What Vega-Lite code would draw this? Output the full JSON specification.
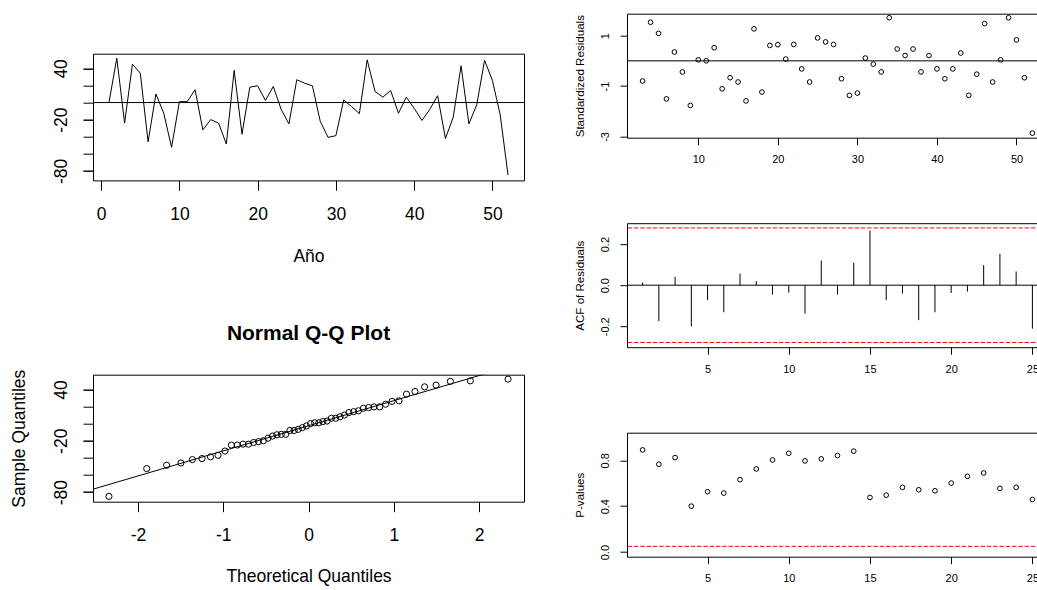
{
  "$schema": "https://vega.github.io/schema/vega-lite/v6.json",
  "usermeta": {"embedOptions": {"actions": false}},
  "background": "white",
  "padding": {"left": 2, "top": 12.7, "right": 0, "bottom": 0},
  "config": {
    "font": "Liberation Sans",
    "view": {"stroke": "black", "strokeWidth": 1},
    "axis": {
      "domain": false, "grid": false, "tickColor": "black", "tickWidth": 1,
      "labelColor": "black", "titleColor": "black",
      "labelFont": "Liberation Sans", "titleFont": "Liberation Sans",
      "labelOverlap": false, "labelFlush": false, "labelBound": false,
      "titleFontWeight": "normal"
    }
  },
  "datasets": {
    "series": [
      {"t": 1, "v": 0}, {"t": 2, "v": 52}, {"t": 3, "v": -24}, {"t": 4, "v": 45}, {"t": 5, "v": 34.5},
      {"t": 6, "v": -46}, {"t": 7, "v": 10}, {"t": 8, "v": -12.5}, {"t": 9, "v": -52.5}, {"t": 10, "v": 1},
      {"t": 11, "v": 1}, {"t": 12, "v": 15}, {"t": 13, "v": -32}, {"t": 14, "v": -20}, {"t": 15, "v": -24},
      {"t": 16, "v": -48.6}, {"t": 17, "v": 37.6}, {"t": 18, "v": -37}, {"t": 19, "v": 18}, {"t": 20, "v": 19.6},
      {"t": 21, "v": 2.4}, {"t": 22, "v": 18.8}, {"t": 23, "v": -8}, {"t": 24, "v": -25}, {"t": 25, "v": 26.7},
      {"t": 26, "v": 22.7}, {"t": 27, "v": 19.6}, {"t": 28, "v": -22}, {"t": 29, "v": -40.8}, {"t": 30, "v": -38.8},
      {"t": 31, "v": 3}, {"t": 32, "v": -4.7}, {"t": 33, "v": -13}, {"t": 34, "v": 50}, {"t": 35, "v": 13},
      {"t": 36, "v": 6.3}, {"t": 37, "v": 14}, {"t": 38, "v": -12.5}, {"t": 39, "v": 6.3}, {"t": 40, "v": -6.7},
      {"t": 41, "v": -21}, {"t": 42, "v": -8}, {"t": 43, "v": 8}, {"t": 44, "v": -42}, {"t": 45, "v": -17},
      {"t": 46, "v": 43}, {"t": 47, "v": -25}, {"t": 48, "v": -2.7}, {"t": 49, "v": 49.4}, {"t": 50, "v": 26},
      {"t": 51, "v": -14.5}, {"t": 52, "v": -85}
    ],
    "qq": [
      {"tq": -2.341, "sq": -85}, {"tq": -1.898, "sq": -52.5}, {"tq": -1.664, "sq": -48.6}, {"tq": -1.497, "sq": -46},
      {"tq": -1.362, "sq": -42}, {"tq": -1.249, "sq": -40.8}, {"tq": -1.150, "sq": -38.8}, {"tq": -1.062, "sq": -37},
      {"tq": -0.980, "sq": -32}, {"tq": -0.905, "sq": -25}, {"tq": -0.835, "sq": -25}, {"tq": -0.768, "sq": -24},
      {"tq": -0.705, "sq": -24}, {"tq": -0.644, "sq": -22}, {"tq": -0.586, "sq": -21}, {"tq": -0.530, "sq": -20},
      {"tq": -0.475, "sq": -17}, {"tq": -0.422, "sq": -14.5}, {"tq": -0.370, "sq": -13}, {"tq": -0.319, "sq": -12.5},
      {"tq": -0.268, "sq": -12.5}, {"tq": -0.218, "sq": -8}, {"tq": -0.169, "sq": -8}, {"tq": -0.121, "sq": -6.7},
      {"tq": -0.072, "sq": -4.7}, {"tq": -0.024, "sq": -2.7}, {"tq": 0.024, "sq": 0}, {"tq": 0.072, "sq": 1},
      {"tq": 0.121, "sq": 1}, {"tq": 0.169, "sq": 2.4}, {"tq": 0.218, "sq": 3}, {"tq": 0.268, "sq": 6.3},
      {"tq": 0.319, "sq": 6.3}, {"tq": 0.370, "sq": 8}, {"tq": 0.422, "sq": 10}, {"tq": 0.475, "sq": 13},
      {"tq": 0.530, "sq": 14}, {"tq": 0.586, "sq": 15}, {"tq": 0.644, "sq": 18}, {"tq": 0.705, "sq": 18.8},
      {"tq": 0.768, "sq": 19.6}, {"tq": 0.835, "sq": 19.6}, {"tq": 0.905, "sq": 22.7}, {"tq": 0.980, "sq": 26},
      {"tq": 1.062, "sq": 26.7}, {"tq": 1.150, "sq": 34.5}, {"tq": 1.249, "sq": 37.6}, {"tq": 1.362, "sq": 43},
      {"tq": 1.497, "sq": 45}, {"tq": 1.664, "sq": 49.4}, {"tq": 1.898, "sq": 50}, {"tq": 2.341, "sq": 52}
    ],
    "qqline": [{"tq": -2.6, "sq": -78.7}, {"tq": 2.6, "sq": 73.7}],
    "resid": [
      {"t": 3, "r": -0.8}, {"t": 4, "r": 1.53}, {"t": 5, "r": 1.09}, {"t": 6, "r": -1.51}, {"t": 7, "r": 0.35},
      {"t": 8, "r": -0.44}, {"t": 9, "r": -1.77}, {"t": 10, "r": 0.04}, {"t": 11, "r": 0.0}, {"t": 12, "r": 0.52},
      {"t": 13, "r": -1.11}, {"t": 14, "r": -0.67}, {"t": 15, "r": -0.84}, {"t": 16, "r": -1.59}, {"t": 17, "r": 1.27},
      {"t": 18, "r": -1.24}, {"t": 19, "r": 0.61}, {"t": 20, "r": 0.64}, {"t": 21, "r": 0.07}, {"t": 22, "r": 0.65},
      {"t": 23, "r": -0.32}, {"t": 24, "r": -0.84}, {"t": 25, "r": 0.91}, {"t": 26, "r": 0.75}, {"t": 27, "r": 0.65},
      {"t": 28, "r": -0.71}, {"t": 29, "r": -1.37}, {"t": 30, "r": -1.28}, {"t": 31, "r": 0.11}, {"t": 32, "r": -0.13},
      {"t": 33, "r": -0.44}, {"t": 34, "r": 1.71}, {"t": 35, "r": 0.47}, {"t": 36, "r": 0.21}, {"t": 37, "r": 0.47},
      {"t": 38, "r": -0.44}, {"t": 39, "r": 0.21}, {"t": 40, "r": -0.32}, {"t": 41, "r": -0.71}, {"t": 42, "r": -0.32},
      {"t": 43, "r": 0.31}, {"t": 44, "r": -1.37}, {"t": 45, "r": -0.53}, {"t": 46, "r": 1.48}, {"t": 47, "r": -0.84},
      {"t": 48, "r": 0.04}, {"t": 49, "r": 1.71}, {"t": 50, "r": 0.83}, {"t": 51, "r": -0.67}, {"t": 52, "r": -2.87}
    ],
    "acf": [
      {"lag": 1, "acf": 0.013}, {"lag": 2, "acf": -0.175}, {"lag": 3, "acf": 0.041}, {"lag": 4, "acf": -0.201},
      {"lag": 5, "acf": -0.073}, {"lag": 6, "acf": -0.132}, {"lag": 7, "acf": 0.056}, {"lag": 8, "acf": 0.020},
      {"lag": 9, "acf": -0.046}, {"lag": 10, "acf": -0.036}, {"lag": 11, "acf": -0.139}, {"lag": 12, "acf": 0.121},
      {"lag": 13, "acf": -0.046}, {"lag": 14, "acf": 0.109}, {"lag": 15, "acf": 0.266}, {"lag": 16, "acf": -0.073},
      {"lag": 17, "acf": -0.041}, {"lag": 18, "acf": -0.170}, {"lag": 19, "acf": -0.132}, {"lag": 20, "acf": -0.038},
      {"lag": 21, "acf": -0.031}, {"lag": 22, "acf": 0.098}, {"lag": 23, "acf": 0.153}, {"lag": 24, "acf": 0.067},
      {"lag": 25, "acf": -0.212}
    ],
    "acfband": [{"b": 0.279}, {"b": -0.279}],
    "pval": [
      {"lag": 1, "p": 0.890}, {"lag": 2, "p": 0.765}, {"lag": 3, "p": 0.823}, {"lag": 4, "p": 0.400},
      {"lag": 5, "p": 0.526}, {"lag": 6, "p": 0.514}, {"lag": 7, "p": 0.631}, {"lag": 8, "p": 0.724},
      {"lag": 9, "p": 0.803}, {"lag": 10, "p": 0.861}, {"lag": 11, "p": 0.794}, {"lag": 12, "p": 0.812},
      {"lag": 13, "p": 0.841}, {"lag": 14, "p": 0.879}, {"lag": 15, "p": 0.476}, {"lag": 16, "p": 0.496},
      {"lag": 17, "p": 0.564}, {"lag": 18, "p": 0.543}, {"lag": 19, "p": 0.534}, {"lag": 20, "p": 0.601},
      {"lag": 21, "p": 0.660}, {"lag": 22, "p": 0.689}, {"lag": 23, "p": 0.555}, {"lag": 24, "p": 0.564},
      {"lag": 25, "p": 0.458}
    ],
    "sig": [{"b": 0.05}]
  },
  "spacing": 41,
  "hconcat": [
    {
      "spacing": 0,
      "bounds": "full",
      "vconcat": [
        {
          "width": 431, "height": 38.3,
          "view": {"stroke": null},
          "data": {"values": [{}]},
          "mark": {"type": "text", "text": ""},
          "encoding": {}
        },
        {
          "width": 431, "height": 126.7,
          "resolve": {"axis": {"y": "independent"}},
          "layer": [
            {
              "data": {"name": "series"},
              "mark": {"type": "line", "color": "black", "strokeWidth": 1},
              "encoding": {
                "x": {"field": "t", "type": "quantitative",
                  "scale": {"domain": [-1.04, 54.04], "nice": false, "zero": false},
                  "axis": {"values": [0, 10, 20, 30, 40, 50], "title": "Año", "tickSize": 10,
                    "labelFontSize": 17.5, "labelPadding": 15, "titleFontSize": 17.5, "labelOverlap": false,
                    "titleY": 76, "titleBaseline": "middle"}},
                "y": {"field": "v", "type": "quantitative",
                  "scale": {"domain": [-91.2, 57.2], "nice": false, "zero": false},
                  "axis": {"orient": "left", "values": [-80, -20, 40], "title": null, "tickSize": 10,
                    "labelAngle": 270, "labelAlign": "center", "labelBaseline": "middle", "labelOverlap": false,
                    "labelPadding": 21.7, "labelFontSize": 17.5, "minExtent": 90,
                    "labelExpr": "toString(datum.value)"}}
              }
            },
            {
              "data": {"values": [{}]},
              "mark": {"type": "rule", "color": "black", "strokeWidth": 1},
              "encoding": {"y": {"datum": 0, "type": "quantitative",
                "axis": {"orient": "left", "values": [-80, -60, -40, -20, 0, 20, 40], "labels": false,
                  "title": null, "tickSize": 10, "minExtent": 90}}}
            }
          ]
        },
        {
          "width": 431, "height": 56.3,
          "view": {"stroke": null},
          "data": {"values": [{}]},
          "mark": {"type": "text", "text": ""},
          "encoding": {}
        },
        {
          "width": 431, "height": 127,
          "title": {"text": "Normal Q-Q Plot", "fontSize": 21, "fontWeight": "bold", "anchor": "middle",
            "frame": "group", "baseline": "alphabetic", "offset": 7.7, "color": "black", "font": "Liberation Sans"},
          "resolve": {"axis": {"y": "independent"}},
          "layer": [
            {
              "data": {"name": "qq"},
              "mark": {"type": "point", "shape": "circle", "filled": false, "color": "black", "size": 38, "strokeWidth": 1, "opacity": 1},
              "encoding": {
                "x": {"field": "tq", "type": "quantitative",
                  "scale": {"domain": [-2.528, 2.528], "nice": false, "zero": false},
                  "axis": {"values": [-2, -1, 0, 1, 2], "title": "Theoretical Quantiles", "tickSize": 10,
                    "labelFontSize": 17.5, "labelPadding": 15, "titleFontSize": 17.5, "labelOverlap": false,
                    "titleY": 75, "titleBaseline": "middle", "labelExpr": "toString(datum.value)"}},
                "y": {"field": "sq", "type": "quantitative",
                  "scale": {"domain": [-91.2, 57.2], "nice": false, "zero": false},
                  "axis": {"orient": "left", "values": [-80, -20, 40], "title": "Sample Quantiles", "tickSize": 10,
                    "labelAngle": 270, "labelAlign": "center", "labelBaseline": "middle", "labelOverlap": false,
                    "labelPadding": 21.7, "labelFontSize": 17.5, "minExtent": 90,
                    "titleFontSize": 17.5, "titleX": -73.4, "titleBaseline": "middle",
                    "labelExpr": "toString(datum.value)"}}
              }
            },
            {
              "data": {"name": "qqline"},
              "mark": {"type": "line", "color": "black", "strokeWidth": 1, "clip": true},
              "encoding": {
                "x": {"field": "tq", "type": "quantitative"},
                "y": {"field": "sq", "type": "quantitative",
                  "axis": {"orient": "left", "values": [-80, -60, -40, -20, 0, 20, 40], "labels": false,
                    "title": null, "tickSize": 10, "minExtent": 90}}
              }
            }
          ]
        }
      ]
    },
    {
      "spacing": 85.5,
      "bounds": "flush",
      "vconcat": [
        {
          "width": 421, "height": 124,
          "layer": [
            {
              "data": {"name": "resid"},
              "mark": {"type": "point", "shape": "circle", "filled": false, "color": "black", "size": 22, "strokeWidth": 1, "opacity": 1},
              "encoding": {
                "x": {"field": "t", "type": "quantitative",
                  "scale": {"domain": [1.04, 53.96], "nice": false, "zero": false},
                  "axis": {"values": [10, 20, 30, 40, 50], "title": null, "tickSize": 7, "labelOverlap": false,
                    "labelFontSize": 11, "labelPadding": 9}},
                "y": {"field": "r", "type": "quantitative",
                  "scale": {"domain": [-3.05, 1.87], "nice": false, "zero": false},
                  "axis": {"values": [-3, -2, -1, 0, 1], "title": "Standardized Residuals", "tickSize": 7,
                    "labelAngle": 270, "labelAlign": "center", "labelBaseline": "middle", "labelOverlap": false,
                    "labelPadding": 14, "labelFontSize": 11, "minExtent": 60,
                    "titleFontSize": 11.6, "titleX": -46.3, "titleBaseline": "middle",
                    "labelExpr": "toString(datum.value)"}}
              }
            },
            {
              "data": {"values": [{}]},
              "mark": {"type": "rule", "color": "black", "strokeWidth": 1},
              "encoding": {"y": {"datum": 0}}
            }
          ]
        },
        {
          "width": 421, "height": 124,
          "layer": [
            {
              "data": {"name": "acf"},
              "mark": {"type": "rule", "color": "black", "strokeWidth": 1},
              "encoding": {
                "x": {"field": "lag", "type": "quantitative",
                  "scale": {"domain": [0.04, 25.96], "nice": false, "zero": false},
                  "axis": {"values": [5, 10, 15, 20, 25], "title": null, "tickSize": 7, "labelOverlap": false,
                    "labelFontSize": 11, "labelPadding": 9}},
                "y": {"field": "acf", "type": "quantitative",
                  "scale": {"domain": [-0.302, 0.302], "nice": false, "zero": false},
                  "axis": {"values": [-0.2, -0.1, 0, 0.1, 0.2], "title": "ACF of Residuals", "tickSize": 7,
                    "labelAngle": 270, "labelAlign": "center", "labelBaseline": "middle", "labelOverlap": false,
                    "labelPadding": 14, "labelFontSize": 11, "minExtent": 60,
                    "titleFontSize": 11.6, "titleX": -46.3, "titleBaseline": "middle",
                    "labelExpr": "datum.value == 0.2 ? '0.2' : datum.value == 0 ? '0.0' : datum.value == -0.2 ? '-0.2' : ''"}},
                "y2": {"datum": 0}
              }
            },
            {
              "data": {"values": [{}]},
              "mark": {"type": "rule", "color": "black", "strokeWidth": 1},
              "encoding": {"y": {"datum": 0}}
            },
            {
              "data": {"name": "acfband"},
              "mark": {"type": "rule", "color": "#FF0000", "strokeWidth": 1, "strokeDash": [4.5, 1.8]},
              "encoding": {"y": {"field": "b", "type": "quantitative"}}
            }
          ]
        },
        {
          "width": 421, "height": 124,
          "layer": [
            {
              "data": {"name": "pval"},
              "mark": {"type": "point", "shape": "circle", "filled": false, "color": "black", "size": 22, "strokeWidth": 1, "opacity": 1},
              "encoding": {
                "x": {"field": "lag", "type": "quantitative",
                  "scale": {"domain": [0.04, 25.96], "nice": false, "zero": false},
                  "axis": {"values": [5, 10, 15, 20, 25], "title": null, "tickSize": 7, "labelOverlap": false,
                    "labelFontSize": 11, "labelPadding": 9}},
                "y": {"field": "p", "type": "quantitative",
                  "scale": {"domain": [-0.04, 1.04], "nice": false, "zero": false},
                  "axis": {"values": [0, 0.2, 0.4, 0.6, 0.8, 1.0], "title": "P-values", "tickSize": 7,
                    "labelAngle": 270, "labelAlign": "center", "labelBaseline": "middle", "labelOverlap": false,
                    "labelPadding": 14, "labelFontSize": 11, "minExtent": 60,
                    "titleFontSize": 11.6, "titleX": -46.3, "titleBaseline": "middle",
                    "labelExpr": "datum.value == 0 ? '0.0' : datum.value == 0.4 ? '0.4' : datum.value == 0.8 ? '0.8' : ''"}}
              }
            },
            {
              "data": {"name": "sig"},
              "mark": {"type": "rule", "color": "#FF0000", "strokeWidth": 1, "strokeDash": [4.5, 1.8]},
              "encoding": {"y": {"field": "b", "type": "quantitative"}}
            }
          ]
        }
      ]
    }
  ]
}
